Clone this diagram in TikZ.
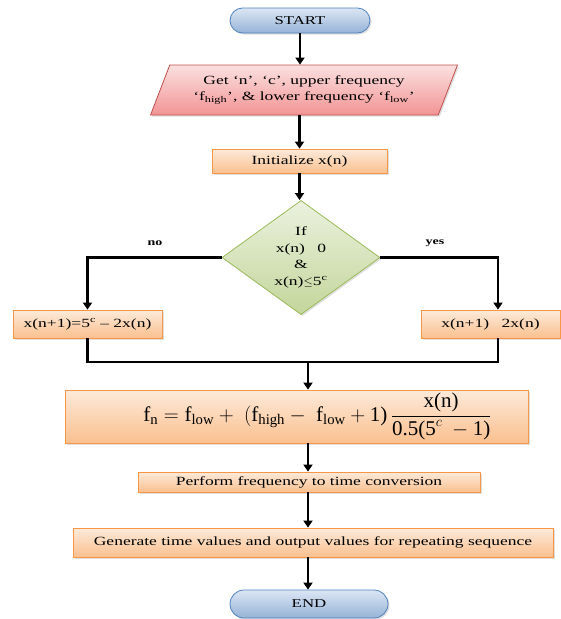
\documentclass[tikz,border=0pt]{standalone}
\usepackage{amsmath}
\usepackage[no-math]{fontspec}
\setmainfont[FakeStretch=1.4]{Liberation Serif}
\newfontfamily\formfont{Liberation Serif}
\newcommand{\tf}[1]{\text{\formfont #1}}
\usetikzlibrary{shapes.geometric,shapes.misc,arrows.meta,shadows}
\definecolor{pillT}{HTML}{DCE6F4}
\definecolor{pillB}{HTML}{95B3D7}
\definecolor{pillD}{HTML}{4F81BD}
\definecolor{parT}{HTML}{FBE0E0}
\definecolor{parB}{HTML}{F29494}
\definecolor{parD}{HTML}{C0504D}
\definecolor{oraT}{HTML}{FDEADA}
\definecolor{oraB}{HTML}{FAC08F}
\definecolor{oraD}{HTML}{F79646}
\definecolor{grnT}{HTML}{EBF1DE}
\definecolor{grnB}{HTML}{C3D69B}
\definecolor{grnD}{HTML}{9BBB59}
\tikzset{
  shd/.style={drop shadow={opacity=0.25,shadow xshift=1.5pt,shadow yshift=-1.5pt}},
  pill/.style={rounded rectangle,draw=pillD,line width=0.8pt,top color=pillT,bottom color=pillB,inner sep=0pt,shd,font=\fontsize{12}{14}\selectfont},
  para/.style={trapezium,trapezium left angle=61,trapezium right angle=119,trapezium stretches=true,draw=parD,line width=0.8pt,top color=parT,bottom color=parB,inner sep=0pt,align=center,shd,font=\fontsize{12.5}{16}\selectfont},
  obox/.style={rectangle,draw=oraD,line width=0.8pt,top color=oraT,bottom color=oraB,inner sep=0pt,shd,font=\fontsize{12.5}{14}\selectfont},
  dia/.style={diamond,draw=grnD,line width=0.8pt,top color=grnT,bottom color=grnB,inner sep=0pt,align=center,shd,font=\fontsize{12.5}{16.5}\selectfont},
  lab/.style={font=\bfseries\fontsize{10}{11}\selectfont},
  conn/.style={line width=2.6pt},
  arr/.style={line width=2.6pt,-{Triangle[width=9pt,length=7pt]}}
}
\begin{document}
\begin{tikzpicture}[x=1pt,y=-1pt]
\useasboundingbox (0,0) rectangle (561,619);
\node[pill,minimum width=140,minimum height=25] (start) at (300,20.5) {START};
\node[para,minimum width=308,minimum height=50] (par) at (304,90) {Get `n', `c', upper frequency\\`f\textsubscript{high}', \& lower frequency `f\textsubscript{low}'};
\node[obox,minimum width=175,minimum height=24] (init) at (299.5,161) {Initialize x(n)};
\node[dia,minimum width=158,minimum height=89] (dia) at (301,257.5) {If\\x(n)\quad 0\\\&\\x(n)$\leq$5\textsuperscript{c}};
\node[obox,minimum width=149,minimum height=28] (lbox) at (87.5,324) {x(n+1)=5\textsuperscript{c} -- 2x(n)};
\node[obox,minimum width=139,minimum height=28] (rbox) at (490.5,324) {x(n+1)\quad 2x(n)};
\node[obox,minimum width=463,minimum height=53,font=\fontsize{21}{25}\selectfont] (fbox) at (296.5,416.5) {\hspace*{42pt}$\displaystyle \tf{f}_{\tf{n}} = \tf{f}_{\tf{low}} + \;(\tf{f}_{\tf{high}} -\; \tf{f}_{\tf{low}} + \tf{1)}\,\frac{\tf{x(n)}}{\tf{0.5(5}^{c}\tf{ }-\tf{1)}}$};
\node[obox,minimum width=342,minimum height=20] (perf) at (309,482) {Perform frequency to time conversion};
\node[obox,minimum width=480,minimum height=29] (gen) at (313,542.5) {Generate time values and output values for repeating sequence};
\node[pill,minimum width=158,minimum height=28] (end) at (309,604) {END};
\node[lab] (no) at (155,243) {no};
\node[lab] (yes) at (435,243) {yes};
\coordinate (rtop) at ([xshift=7.5pt]rbox.north);
\coordinate (rbot) at ([xshift=7.5pt]rbox.south);
\coordinate (m) at (308,362);
\draw[arr] (start.south) -- (start.south |- par.north);
\draw[arr] (init.north |- par.south) -- (init.north);
\draw[arr] (init.south) -- (init.south |- dia.north);
\draw[arr] (dia.west) -| (lbox.north);
\draw[arr] (dia.east) -| (rtop);
\draw[conn] (lbox.south) |- (m) -| (rbot);
\draw[arr] (m) -- (m |- fbox.north);
\draw[arr] (m |- fbox.south) -- (m |- perf.north);
\draw[arr] (m |- perf.south) -- (m |- gen.north);
\draw[arr] (m |- gen.south) -- (m |- end.north);
\end{tikzpicture}
\end{document}
